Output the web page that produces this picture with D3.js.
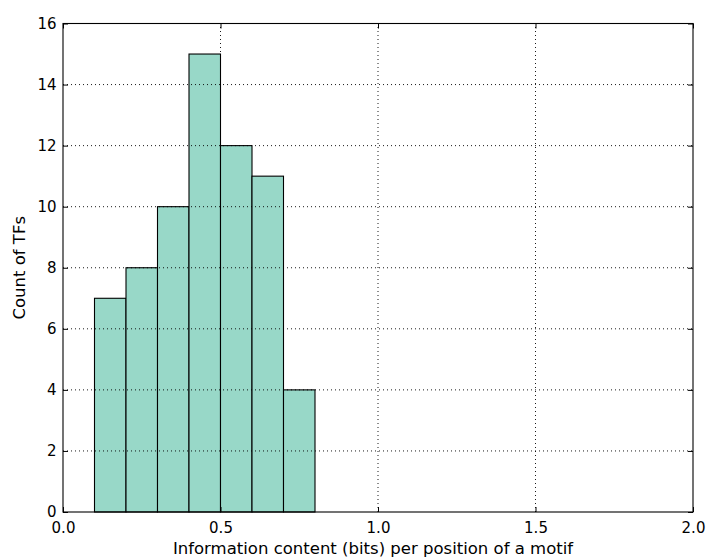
<!DOCTYPE html>
<html>
<head>
<meta charset="utf-8">
<script src="https://cdn.jsdelivr.net/npm/d3@7"></script>
<style>
  body { margin: 0; background: #fff; }
  svg { display: block; font-family: "DejaVu Sans", sans-serif; }
</style>
</head>
<body>
<svg id="chart" width="709" height="559"></svg>
<script>
// Histogram bins (lower and upper edges) and TF counts
const binStarts = [0.1, 0.2, 0.3, 0.4, 0.5, 0.6, 0.7];
const binEnds   = [0.2, 0.3, 0.4, 0.5, 0.6, 0.7, 0.8];
const counts    = [7, 8, 10, 15, 12, 11, 4];
const xTicks = [0.0, 0.5, 1.0, 1.5, 2.0];
const yTicks = [0, 2, 4, 6, 8, 10, 12, 14, 16];
const xLabel = "Information content (bits) per position of a motif";
const yLabel = "Count of TFs";

const svg = d3.select("#chart");
const m = { left: 63, right: 16, top: 23.5, bottom: 47 };
const W = 709, H = 559;
const x = d3.scaleLinear().domain([0, 2]).range([m.left, W - m.right]);
const y = d3.scaleLinear().domain([0, 16]).range([H - m.bottom, m.top]);

// bars
svg.append("g").selectAll("rect").data(counts).join("rect")
  .attr("x", (d, i) => x(binStarts[i]))
  .attr("y", d => y(d))
  .attr("width", (d, i) => x(binEnds[i]) - x(binStarts[i]))
  .attr("height", d => y(0) - y(d))
  .attr("fill", "#98d8c8")
  .attr("stroke", "#000")
  .attr("stroke-width", 1.1);

// dotted grid drawn over the bars
const grid = svg.append("g").attr("stroke", "#000").attr("stroke-width", 0.9)
  .attr("stroke-dasharray", "1,3");
grid.selectAll(".gx").data(xTicks.slice(1, -1)).join("line")
  .attr("x1", d => x(d)).attr("x2", d => x(d))
  .attr("y1", y(0)).attr("y2", y(16));
grid.selectAll(".gy").data(yTicks.slice(1, -1)).join("line")
  .attr("x1", x(0)).attr("x2", x(2))
  .attr("y1", d => y(d)).attr("y2", d => y(d));

// axes with inward ticks
const fmtX = d3.format(".1f");
const axB = svg.append("g").attr("transform", `translate(0,${y(0)})`)
  .call(d3.axisBottom(x).tickValues(xTicks).tickFormat(fmtX).tickSizeInner(-5).tickSizeOuter(0).tickPadding(10));
const axT = svg.append("g").attr("transform", `translate(0,${y(16)})`)
  .call(d3.axisTop(x).tickValues(xTicks).tickFormat("").tickSizeInner(-5).tickSizeOuter(0));
const axL = svg.append("g").attr("transform", `translate(${x(0)},0)`)
  .call(d3.axisLeft(y).tickValues(yTicks).tickSizeInner(-5).tickSizeOuter(0).tickPadding(6.5));
const axR = svg.append("g").attr("transform", `translate(${x(2)},0)`)
  .call(d3.axisRight(y).tickValues(yTicks).tickFormat("").tickSizeInner(-5).tickSizeOuter(0));
[axB, axT, axL, axR].forEach(a => {
  a.select(".domain").remove();
  a.selectAll("text").attr("font-size", 15).attr("fill", "#000")
    .attr("font-family", "DejaVu Sans, sans-serif");
  a.selectAll("line").attr("stroke", "#000");
});

// frame
svg.append("rect")
  .attr("x", x(0)).attr("y", y(16))
  .attr("width", x(2) - x(0)).attr("height", y(0) - y(16))
  .attr("fill", "none").attr("stroke", "#000").attr("stroke-width", 1.1);

// axis labels
svg.append("text").attr("x", (x(0) + x(2)) / 2 - 5).attr("y", 554)
  .attr("text-anchor", "middle").attr("font-size", 16.5).text(xLabel);
svg.append("text")
  .attr("transform", `translate(25,${(y(0) + y(16)) / 2}) rotate(-90)`)
  .attr("text-anchor", "middle").attr("font-size", 16.5).text(yLabel);
</script>
</body>
</html>
